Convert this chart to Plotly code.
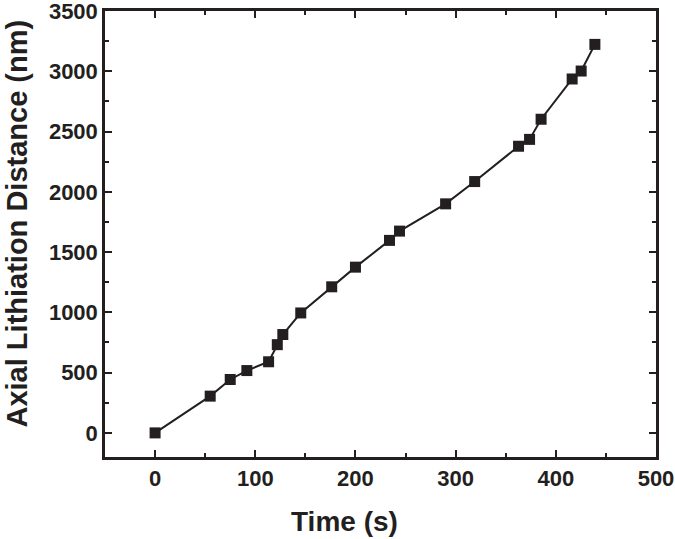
import plotly.graph_objects as go

time_s = [0, 55, 75, 91.6, 113.3, 122, 127.5, 145.4, 176.3, 200, 234, 244, 290, 319, 362.8, 373.8, 385.3, 416.3, 425.3, 439]
distance_nm = [0, 305, 443, 517, 590, 732, 816, 995, 1212, 1375, 1597, 1674, 1900, 2085, 2378, 2435, 2602, 2936, 3002, 3223]

x_ticks = [0, 100, 200, 300, 400, 500]
y_ticks = [0, 500, 1000, 1500, 2000, 2500, 3000, 3500]

x_title = "Time (s)"
y_title = "Axial Lithiation Distance (nm)"

ink = "#231f20"
font_family = "Liberation Sans"

fig = go.Figure()
fig.add_trace(go.Scatter(
    x=time_s, y=distance_nm, mode="lines+markers",
    line=dict(color=ink, width=2),
    marker=dict(symbol="square", size=11, color=ink, line=dict(width=0)),
    showlegend=False, hoverinfo="skip",
))

axis_common = dict(
    showline=True, linecolor=ink, linewidth=2.5, mirror="ticks",
    ticks="inside", ticklen=7, tickwidth=2, tickcolor=ink,
    showgrid=False, zeroline=False, automargin=False,
    ticklabeloverflow="allow",
    tickfont=dict(family=font_family, size=22, color=ink, weight=700),
)

fig.update_xaxes(
    range=[-50, 500], tickvals=x_ticks,
    minor=dict(dtick=50, ticks="inside", ticklen=4, tickwidth=2, tickcolor=ink, showgrid=False),
    **axis_common,
)
fig.update_yaxes(
    range=[-200, 3500], tickvals=y_ticks,
    minor=dict(dtick=250, tick0=0, ticks="inside", ticklen=4, tickwidth=2, tickcolor=ink, showgrid=False),
    **axis_common,
)

fig.add_annotation(
    text=x_title, xref="paper", yref="paper", x=0.4338, y=-0.1435,
    xanchor="center", yanchor="middle", showarrow=False,
    font=dict(family=font_family, size=28, color=ink, weight=700),
)
fig.add_annotation(
    text=y_title, xref="paper", yref="paper", x=-0.1588, y=0.5224,
    xanchor="center", yanchor="middle", showarrow=False, textangle=-90,
    font=dict(family=font_family, size=29, color=ink, weight=700),
)

fig.update_layout(
    width=675, height=539,
    margin=dict(l=105, r=19, t=11, b=82, autoexpand=False),
    paper_bgcolor="white", plot_bgcolor="white",
)

fig.write_html("out.html", config={"displayModeBar": False},
               post_script="document.body.style.margin='0';")
